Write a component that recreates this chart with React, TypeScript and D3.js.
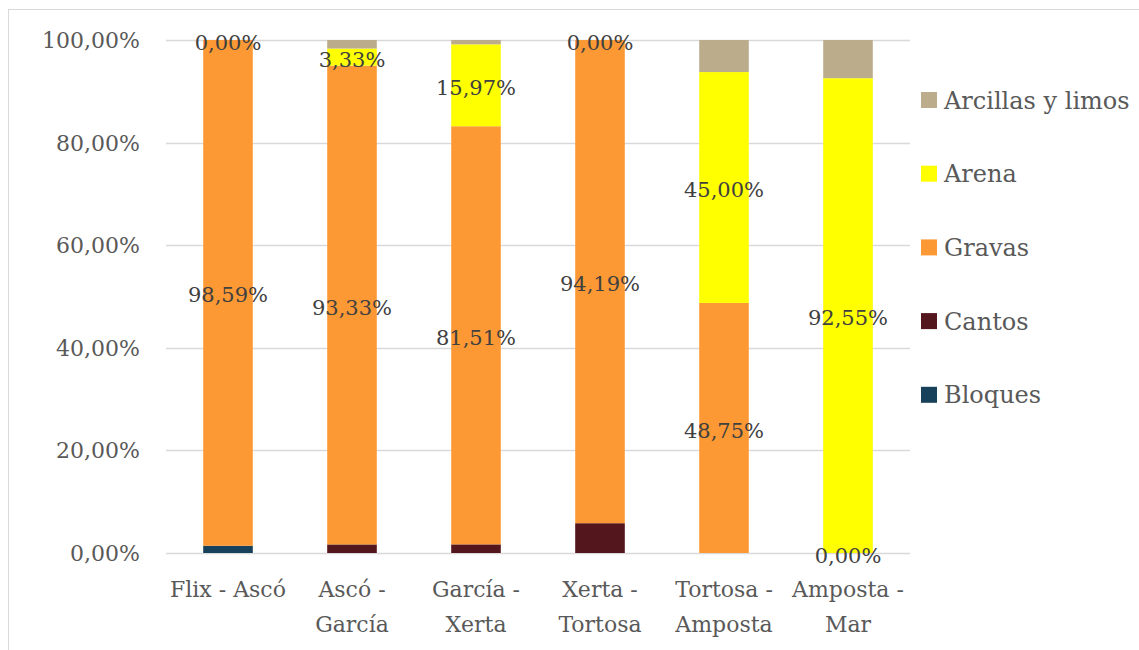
import React, { useEffect, useRef } from "react";
import * as d3 from "d3";

// Tramos del río y composición granulométrica (%)
const categories = [
  "Flix - Ascó",
  "Ascó - García",
  "García - Xerta",
  "Xerta - Tortosa",
  "Tortosa - Amposta",
  "Amposta - Mar",
];

const seriesNames = ["Bloques", "Cantos", "Gravas", "Arena", "Arcillas y limos"];

const bloques = [1.41, 0, 0, 0, 0, 0];
const cantos = [0, 1.67, 1.68, 5.81, 0, 0];
const gravas = [98.59, 93.33, 81.51, 94.19, 48.75, 0];
const arena = [0, 3.33, 15.97, 0, 45.0, 92.55];
const arcillas = [0, 1.67, 0.84, 0, 6.25, 7.45];

const yTicks = [0, 20, 40, 60, 80, 100];

// Series whose values are printed on the bars
const labelledSeries = ["Gravas", "Arena"];

const colors: Record<string, string> = {
  Bloques: "#17405A",
  Cantos: "#53161C",
  Gravas: "#FD9935",
  Arena: "#FFFF00",
  "Arcillas y limos": "#BBAC8C",
};

const W = 1139;
const H = 650;
const FONT = "'DejaVu Serif', serif";

const fmt = (v: number) => v.toFixed(2).replace(".", ",") + "%";

export default function App() {
  const ref = useRef<SVGSVGElement | null>(null);

  useEffect(() => {
    const svg = d3.select(ref.current);
    svg.selectAll("*").remove();

    const valuesBySeries: Record<string, number[]> = {
      Bloques: bloques,
      Cantos: cantos,
      Gravas: gravas,
      Arena: arena,
      "Arcillas y limos": arcillas,
    };

    const rows = categories.map((c, i) => {
      const r: any = { cat: c };
      seriesNames.forEach((s) => (r[s] = valuesBySeries[s][i]));
      return r;
    });

    const stacked = d3.stack<any>().keys(seriesNames)(rows);

    const x = d3.scaleBand<string>().domain(categories).range([166, 910]).paddingInner(0.6).paddingOuter(0.3);
    const y = d3.scaleLinear().domain([0, 100]).range([553, 40]);

    // chart frame
    svg
      .append("rect")
      .attr("x", 8.5)
      .attr("y", 9.5)
      .attr("width", W + 20)
      .attr("height", H + 20)
      .attr("fill", "#fff")
      .attr("stroke", "#d9d9d9")
      .attr("stroke-width", 1);

    // gridlines
    svg
      .append("g")
      .selectAll("line")
      .data(yTicks)
      .join("line")
      .attr("x1", 166)
      .attr("x2", 910)
      .attr("y1", (d) => Math.round(y(d)) + 0.5)
      .attr("y2", (d) => Math.round(y(d)) + 0.5)
      .attr("stroke", "#d9d9d9")
      .attr("stroke-width", 1.5);

    // y-axis labels
    svg
      .append("g")
      .selectAll("text")
      .data(yTicks)
      .join("text")
      .attr("x", 140)
      .attr("y", (d) => y(d))
      .attr("dy", "0.36em")
      .attr("text-anchor", "end")
      .attr("font-family", FONT)
      .attr("font-size", 22)
      .attr("fill", "#595959")
      .text((d) => fmt(d));

    // bars
    svg
      .append("g")
      .selectAll("g")
      .data(stacked)
      .join("g")
      .attr("fill", (s) => colors[s.key])
      .selectAll("rect")
      .data((s) => s)
      .join("rect")
      .attr("x", (d) => x(d.data.cat)!)
      .attr("width", x.bandwidth())
      .attr("y", (d) => y(d[1]))
      .attr("height", (d) => Math.max(0, y(d[0]) - y(d[1])));

    // data labels
    const lbl = svg.append("g");
    stacked
      .filter((s) => labelledSeries.includes(s.key))
      .forEach((s) => {
        lbl
          .selectAll(null)
          .data(s)
          .join("text")
          .attr("x", (d) => x(d.data.cat)! + x.bandwidth() / 2)
          .attr("y", (d) => y((d[0] + d[1]) / 2) + 2)
          .attr("dy", "0.36em")
          .attr("text-anchor", "middle")
          .attr("font-family", FONT)
          .attr("font-size", 21)
          .attr("fill", "#404040")
          .text((d) => fmt(d[1] - d[0]));
      });

    // category labels, wrapped to the band width
    const catG = svg.append("g");
    const maxW = x.step() - 4;
    categories.forEach((c) => {
      const cx = x(c)! + x.bandwidth() / 2;
      const t = catG
        .append("text")
        .attr("text-anchor", "middle")
        .attr("font-family", FONT)
        .attr("font-size", 22)
        .attr("fill", "#595959");
      const words = c.split(" ");
      const lines: string[] = [];
      let cur = "";
      const probe = t.append("tspan");
      words.forEach((w) => {
        const test = cur ? cur + " " + w : w;
        probe.text(test);
        const len = (probe.node() as SVGTSpanElement).getComputedTextLength();
        if (len > maxW && cur) {
          lines.push(cur);
          cur = w;
        } else cur = test;
      });
      lines.push(cur);
      probe.remove();
      lines.forEach((ln, i) => {
        t.append("tspan")
          .attr("x", cx)
          .attr("y", 597 + i * 35)
          .text(ln);
      });
    });

    // legend
    const legendOrder = [...seriesNames].reverse();
    const lg = svg
      .append("g")
      .selectAll("g")
      .data(legendOrder)
      .join("g")
      .attr("transform", (_, i) => `translate(921, ${100 + i * 73.7})`);
    lg.append("rect")
      .attr("x", 0)
      .attr("y", -8)
      .attr("width", 16)
      .attr("height", 16)
      .attr("fill", (d) => colors[d]);
    lg.append("text")
      .attr("x", 23)
      .attr("y", 0)
      .attr("dy", "0.36em")
      .attr("font-family", FONT)
      .attr("font-size", 24)
      .attr("fill", "#595959")
      .text((d) => d);
  }, []);

  return (
    <svg
      ref={ref}
      width={W}
      height={H}
      style={{ position: "absolute", left: 0, top: 0, background: "#fff" }}
    />
  );
}
